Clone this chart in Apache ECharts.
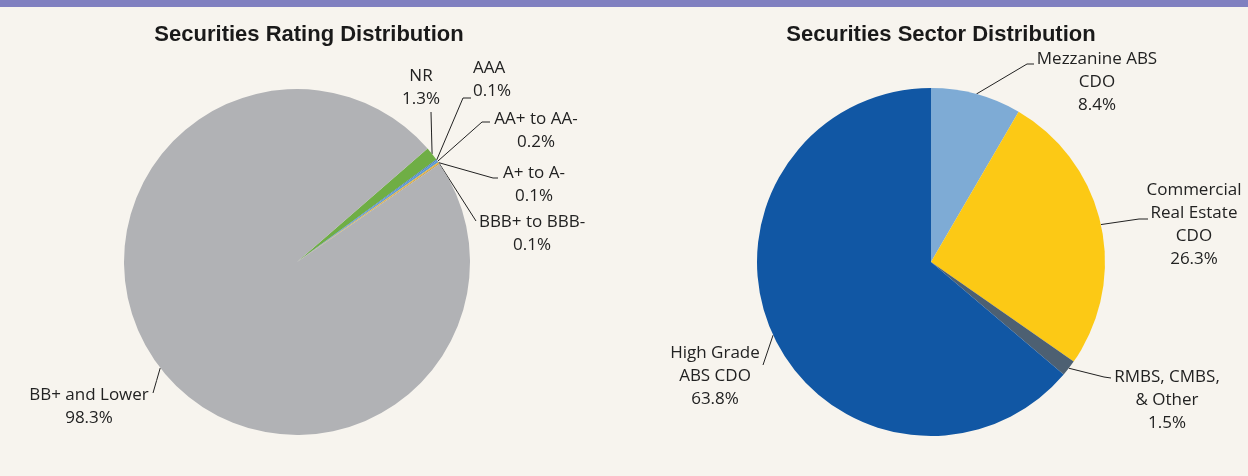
<!DOCTYPE html>
<html><head><meta charset="utf-8">
<script src="https://cdn.jsdelivr.net/npm/echarts@6/dist/echarts.min.js"></script>
<style>html,body{margin:0;padding:0;background:#f7f4ee;}#c{width:1248px;height:476px;}</style>
</head><body><div id="c"></div>
<script>
const ratingCategories = ['NR', 'AAA', 'AA+ to AA-', 'A+ to A-', 'BBB+ to BBB-', 'BB+ and Lower'];
const ratingValues = [1.3, 0.1, 0.2, 0.1, 0.1, 98.3];
const ratingColors = ['#6fae45', '#4a7cc4', '#5b9bd5', '#f2b32a', '#c9a04a', '#b1b2b5'];

const sectorCategories = ['Mezzanine ABS\nCDO', 'Commercial\nReal Estate\nCDO', 'RMBS, CMBS,\n& Other', 'High Grade\nABS CDO'];
const sectorValues = [8.4, 26.3, 1.5, 63.8];
const sectorColors = ['#7eabd5', '#fcc915', '#4d6072', '#1157a4'];

// label placement (text anchor, line elbow, line end) per slice
const ratingLabelPos = [
  {x: 421, y: 88, align: 'center', elbow: null, end: [431, 112]},
  {x: 473, y: 80, align: 'left', elbow: [463, 98], end: [471, 98]},
  {x: 536, y: 131, align: 'center', elbow: [482, 122], end: [490, 122]},
  {x: 534, y: 185, align: 'center', elbow: [493, 178], end: [498, 178]},
  {x: 532, y: 234, align: 'center', elbow: null, end: [476, 221]},
  {x: 89, y: 407, align: 'center', elbow: null, end: [153, 393]}
];
const sectorLabelPos = [
  {x: 1097, y: 82, align: 'center', elbow: [1027, 64], end: [1034, 64]},
  {x: 1194, y: 225, align: 'center', elbow: [1139, 219], end: [1148, 219]},
  {x: 1167, y: 400, align: 'center', elbow: [1104, 377], end: [1111, 378]},
  {x: 715, y: 376, align: 'center', elbow: null, end: [763, 365]}
];

function makeLayout(posArr) {
  return function (params) {
    const p = posArr[params.dataIndex];
    const pts = params.labelLinePoints;
    const start = pts && pts[0] ? pts[0] : p.end;
    const mid = p.elbow || [(start[0] + p.end[0]) / 2, (start[1] + p.end[1]) / 2];
    return {
      x: p.x, y: p.y, align: p.align, verticalAlign: 'middle',
      labelLinePoints: [start, mid, p.end]
    };
  };
}

const labelStyle = {
  show: true, position: 'outside', color: '#222222',
  fontFamily: 'Open Sans', fontSize: 17, lineHeight: 23
};
const lineStyle = {show: true, length: 10, length2: 6, lineStyle: {color: '#222222', width: 1}};

const chart = echarts.init(document.getElementById('c'), null, {renderer: 'canvas'});
chart.setOption({
  backgroundColor: '#f7f4ee',
  animation: false,
  graphic: [{type: 'rect', shape: {x: 0, y: 0, width: 1248, height: 7}, style: {fill: '#8080c0'}}],
  title: [
    {text: 'Securities Rating Distribution', left: 304, top: 19, textAlign: 'center',
     textStyle: {fontFamily: 'Liberation Sans', fontWeight: 'bold', fontSize: 22, color: '#1a1a1a'}},
    {text: 'Securities Sector Distribution', left: 936, top: 19, textAlign: 'center',
     textStyle: {fontFamily: 'Liberation Sans', fontWeight: 'bold', fontSize: 22, color: '#1a1a1a'}}
  ],
  series: [
    {
      type: 'pie', center: [297, 262], radius: 173, startAngle: 41, clockwise: true,
      avoidLabelOverlap: false, silent: true,
      data: ratingCategories.map((n, i) => ({name: n, value: ratingValues[i], itemStyle: {color: ratingColors[i]}})),
      itemStyle: {borderWidth: 0},
      label: Object.assign({}, labelStyle, {formatter: p => p.name + '\n' + p.value.toFixed(1) + '%'}),
      labelLine: lineStyle,
      labelLayout: makeLayout(ratingLabelPos)
    },
    {
      type: 'pie', center: [931, 262], radius: 174, startAngle: 90, clockwise: true,
      avoidLabelOverlap: false, silent: true,
      data: sectorCategories.map((n, i) => ({name: n, value: sectorValues[i], itemStyle: {color: sectorColors[i]}})),
      itemStyle: {borderWidth: 0},
      label: Object.assign({}, labelStyle, {formatter: p => p.name + '\n' + p.value.toFixed(1) + '%'}),
      labelLine: lineStyle,
      labelLayout: makeLayout(sectorLabelPos)
    }
  ]
});
</script></body></html>
